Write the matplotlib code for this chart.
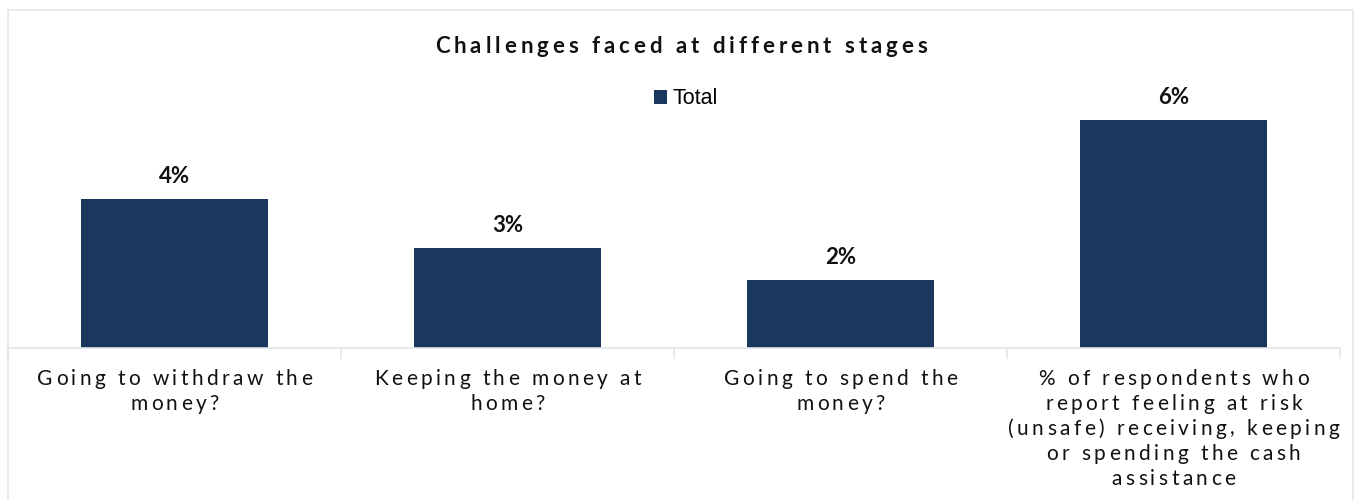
import matplotlib
matplotlib.use("Agg")
import matplotlib.pyplot as plt
from matplotlib.patches import Rectangle
from matplotlib.transforms import ScaledTranslation
from matplotlib.font_manager import FontProperties, findfont
from matplotlib.ft2font import FT2Font

# survey results, share of respondents (%)
stages = [
    "Going to withdraw the\nmoney?",
    "Keeping the money at\nhome?",
    "Going to spend the\nmoney?",
    "% of respondents who\nreport feeling at risk\n(unsafe) receiving, keeping\nor spending the cash\nassistance",
]
total = [4.2, 2.8, 1.9, 6.4]

navy = "#1a375d"
grid_grey = "#e3e6ea"
ink = "#111111"

fig = plt.figure(figsize=(13.59, 5.0), dpi=100)
W, H = 1359, 500


def tracked_text(x, y, transform, text, size, weight="normal",
                 track=0.1, lead=1.2, dy=0.0):
    """Centered text with extra letter spacing (track in em, lead in em)."""
    fp = FontProperties(family="Lato", weight=weight, size=size)
    font = FT2Font(findfont(fp))
    font.set_size(size, 72)
    gap = track * size
    for k, line in enumerate(text.split("\n")):
        adv = [font.load_char(ord(c)).linearHoriAdvance / 65536 for c in line]
        pos = -(sum(adv) + gap * (len(line) - 1)) / 2
        for c, a in zip(line, adv):
            if c != " ":
                off = ScaledTranslation(pos / 72, (dy - k * lead * size) / 72,
                                        fig.dpi_scale_trans)
                fig.text(x, y, c, transform=transform + off,
                         fontproperties=fp, color=ink,
                         ha="left", va="baseline")
            pos += a + gap


# chart frame
fig.patches.append(Rectangle((8 / W, -0.1), 1345 / W, 1.1 - 10 / H,
                             transform=fig.transFigure, fill=False,
                             edgecolor=grid_grey, linewidth=1.2))

ax = fig.add_axes([8 / W, 152 / H, 1332 / W, 288 / H])
x = range(len(stages))
bars = ax.bar(x, total, width=0.56, color=navy, label="Total")

for b, v in zip(bars, total):
    ax.annotate(f"{v:.0f}%", (b.get_x() + b.get_width() / 2, v),
                xytext=(0, 11.5), textcoords="offset points",
                ha="center", va="baseline", fontsize=16, fontweight="bold",
                family="Lato", color=ink)

ax.set_xlim(-0.5, 3.5)
ax.set_ylim(0, 8.1)
ax.set_yticks([])
ax.set_xticks([-0.5, 0.5, 1.5, 2.5, 3.5])
ax.set_xticklabels([])
ax.tick_params(axis="x", length=8, color=grid_grey, width=1.2)
for side in ["left", "right", "top"]:
    ax.spines[side].set_visible(False)
ax.spines["bottom"].set_color(grid_grey)
ax.spines["bottom"].set_linewidth(1.2)

# category names under the bars
for i, s in zip(x, stages):
    tracked_text(i, 0, ax.get_xaxis_transform(), s, size=15,
                 track=0.165, lead=1.2, dy=-26.3)

tracked_text(681 / W, 1 - 53 / H, fig.transFigure,
             "Challenges faced at different stages", size=16,
             weight="bold", track=0.18)

fig.legend(loc="center", bbox_to_anchor=(686 / W, 1 - 99 / H),
           frameon=False, handlelength=0.6, handleheight=0.6,
           handletextpad=0.25, prop={"family": "Liberation Sans", "size": 15.5})

fig.savefig("out.png", dpi=100)
